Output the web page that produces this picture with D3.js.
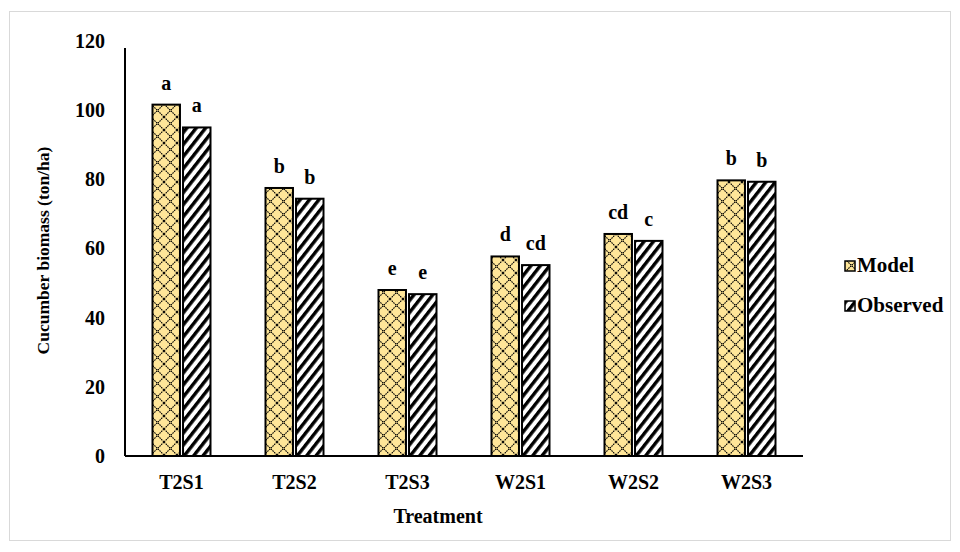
<!DOCTYPE html>
<html>
<head>
<meta charset="utf-8">
<script src="https://cdn.jsdelivr.net/npm/d3@7"></script>
<style>
  body { margin: 0; background: #fff; }
  text { font-family: "Liberation Serif", "Times New Roman", serif; font-weight: bold; fill: #000; }
</style>
</head>
<body>
<div id="viz"></div>
<script>
// data
var treatments = ['T2S1', 'T2S2', 'T2S3', 'W2S1', 'W2S2', 'W2S3'];
var seriesNames = ['Model', 'Observed'];
var modelVals = [101.6, 77.5, 48.0, 57.7, 64.2, 79.7];
var observedVals = [95.0, 74.4, 46.8, 55.2, 62.2, 79.3];
var modelLetters = ['a', 'b', 'e', 'd', 'cd', 'b'];
var observedLetters = ['a', 'b', 'e', 'cd', 'c', 'b'];
var yTicks = [0, 20, 40, 60, 80, 100, 120];

var width = 960, height = 552;
var plot = {left: 125, right: 803, top: 41, bottom: 456};

var svg = d3.select('#viz').append('svg')
    .attr('width', width)
    .attr('height', height);

// patterns
var defs = svg.append('defs');
var cross = defs.append('pattern')
    .attr('id', 'cross')
    .attr('patternUnits', 'userSpaceOnUse')
    .attr('width', 13).attr('height', 13);
cross.append('rect').attr('width', 13).attr('height', 13).attr('fill', '#FFE699');
cross.append('path')
    .attr('d', 'M0,0 L13,13 M13,0 L0,13')
    .attr('stroke', '#000')
    .attr('stroke-width', 1.1)
    .attr('stroke-dasharray', '1.6,0.8');

var stripe = defs.append('pattern')
    .attr('id', 'stripe')
    .attr('patternUnits', 'userSpaceOnUse')
    .attr('patternTransform', 'rotate(38)')
    .attr('width', 7.4).attr('height', 10);
stripe.append('rect').attr('width', 7.4).attr('height', 10).attr('fill', '#fff');
stripe.append('rect').attr('width', 3.4).attr('height', 10).attr('fill', '#000');

// outer frame
svg.append('rect')
    .attr('x', 9.5).attr('y', 11.5)
    .attr('width', 941).attr('height', 529)
    .attr('fill', 'none')
    .attr('stroke', '#d9d9d9');

// scales
var x = d3.scaleBand()
    .domain(treatments)
    .range([plot.left, plot.right]);

var x1 = d3.scaleBand()
    .domain(seriesNames)
    .range([x.bandwidth() / 2 - 29, x.bandwidth() / 2 + 29])
    .paddingInner(0.1);

var y = d3.scaleLinear()
    .domain([0, 120])
    .range([plot.bottom, plot.top]);

var rows = treatments.map(function(t, i) {
  return {t: t, vals: [
    {s: 'Model', v: modelVals[i], l: modelLetters[i], fill: 'url(#cross)'},
    {s: 'Observed', v: observedVals[i], l: observedLetters[i], fill: 'url(#stripe)'}
  ]};
});

var groups = svg.append('g').selectAll('g')
    .data(rows)
    .join('g')
    .attr('transform', function(d) { return 'translate(' + x(d.t) + ',0)'; });

groups.selectAll('rect')
    .data(function(d) { return d.vals; })
    .join('rect')
    .attr('x', function(d) { return x1(d.s); })
    .attr('y', function(d) { return y(d.v); })
    .attr('width', x1.bandwidth())
    .attr('height', function(d) { return y(0) - y(d.v); })
    .attr('fill', function(d) { return d.fill; })
    .attr('stroke', '#000')
    .attr('stroke-width', 2);

groups.selectAll('text.lbl')
    .data(function(d) { return d.vals; })
    .join('text')
    .attr('class', 'lbl')
    .attr('x', function(d) { return x1(d.s) + x1.bandwidth() / 2; })
    .attr('y', function(d) { return y(d.v) - 15; })
    .attr('text-anchor', 'middle')
    .style('font-size', '20px')
    .text(function(d) { return d.l; });

// axes
var yAxis = d3.axisLeft(y).tickValues(yTicks).tickSize(0).tickPadding(20);
var yG = svg.append('g')
    .attr('transform', 'translate(' + plot.left + ',0)')
    .call(yAxis);
yG.select('.domain').attr('d', 'M0,' + (y(120) + 7) + 'V' + y(0)).attr('stroke', '#000').attr('stroke-width', 2);
yG.selectAll('text').style('font-size', '20px').style('font-family', '"Liberation Serif", serif');

var xAxis = d3.axisBottom(x).tickSize(0).tickPadding(19);
var xG = svg.append('g')
    .attr('transform', 'translate(0,' + plot.bottom + ')')
    .call(xAxis);
xG.select('.domain').attr('d', 'M' + plot.left + ',0H' + plot.right).attr('stroke', '#000').attr('stroke-width', 2);
xG.selectAll('text').style('font-size', '20px').style('font-family', '"Liberation Serif", serif');

// axis titles
svg.append('text')
    .attr('transform', 'translate(49,' + ((plot.top + plot.bottom) / 2 + 2) + ') rotate(-90)')
    .attr('text-anchor', 'middle')
    .style('font-size', '17.5px')
    .text('Cucumber biomass (ton/ha)');

svg.append('text')
    .attr('x', (plot.left + plot.right) / 2 - 26)
    .attr('y', 523)
    .attr('text-anchor', 'middle')
    .style('font-size', '20px')
    .text('Treatment');

// legend
var legend = svg.append('g').selectAll('g')
    .data([{s: 'Model', fill: 'url(#cross)'}, {s: 'Observed', fill: 'url(#stripe)'}])
    .join('g')
    .attr('transform', function(d, i) { return 'translate(845,' + (272 + i * 40) + ')'; });
legend.append('rect')
    .attr('x', 0).attr('y', -11)
    .attr('width', 10).attr('height', 10)
    .attr('fill', function(d) { return d.fill; })
    .attr('stroke', '#000')
    .attr('stroke-width', 1.5);
legend.append('text')
    .attr('x', 12)
    .attr('y', 0)
    .style('font-size', '21px')
    .text(function(d) { return d.s; });
</script>
</body>
</html>
